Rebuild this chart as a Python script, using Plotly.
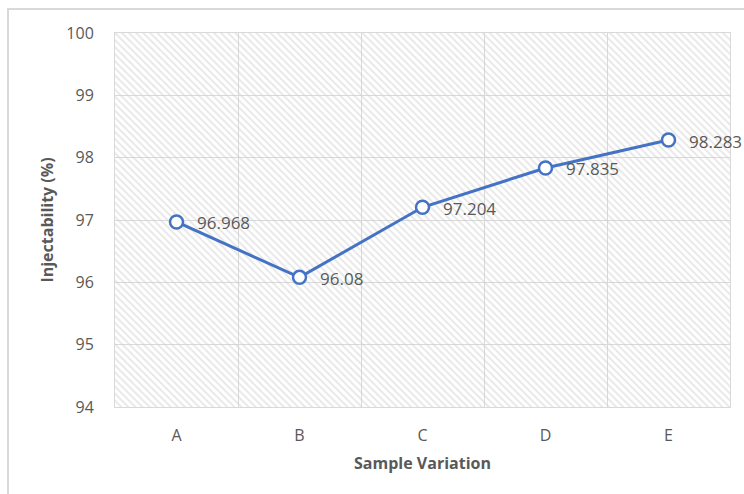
import plotly.graph_objects as go

categories = ["A", "B", "C", "D", "E"]
injectability = [96.968, 96.08, 97.204, 97.835, 98.283]
y_min, y_max = 94, 100
labels = ["96.968", "96.08", "97.204", "97.835", "98.283"]

FONT = "Open Sans"
GRAY = "#595959"

fig = go.Figure()

# hatched plot-area background (one full-width band per category)
fig.add_trace(go.Bar(
    x=categories,
    y=[y_max - y_min] * len(categories),
    base=[y_min] * len(categories),
    width=1,
    marker=dict(color="rgba(0,0,0,0)", line=dict(width=0),
                pattern=dict(shape="\\", fgcolor="#d0d0d0", bgcolor="rgba(255,255,255,0)",
                             size=5, solidity=0.38)),
    hoverinfo="skip", showlegend=False,
))

fig.add_trace(go.Scatter(
    x=categories, y=injectability,
    mode="lines+markers",
    line=dict(color="#4472C4", width=3),
    marker=dict(symbol="circle", size=13, color="white",
                line=dict(color="#4472C4", width=2.5)),
    showlegend=False, cliponaxis=False,
))

annotations = [
    dict(x=c, y=v, text=t, xref="x", yref="y", showarrow=False,
         xanchor="left", yanchor="middle", xshift=18, yshift=-1,
         font=dict(family=FONT, size=17, color=GRAY))
    for c, v, t in zip(categories, injectability, labels)
]

fig.update_layout(
    width=744, height=494,
    margin=dict(l=115, r=14, t=33, b=87),
    paper_bgcolor="white", plot_bgcolor="white",
    bargap=0,
    font=dict(family=FONT, color=GRAY),
    annotations=annotations,
    xaxis=dict(
        type="category", range=[-0.5, 4.5], tickson="boundaries",
        showgrid=True, gridcolor="#d9d9d9", gridwidth=1,
        ticks="", tickfont=dict(family=FONT, size=16, color=GRAY),
        ticklabelstandoff=14,
        showline=True, linecolor="#d9d9d9", mirror=True,
        title=dict(text="<b>Sample Variation</b>", font=dict(family=FONT, size=16, color=GRAY),
                   standoff=12),
        zeroline=False,
    ),
    yaxis=dict(
        range=[y_min, y_max], dtick=1,
        showgrid=True, gridcolor="#d9d9d9", gridwidth=1,
        ticks="", tickfont=dict(family=FONT, size=16, color=GRAY),
        ticklabelstandoff=17,
        showline=True, linecolor="#d9d9d9", mirror=True,
        title=dict(text="<b>Injectability (%)</b>", font=dict(family=FONT, size=16, color=GRAY),
                   standoff=8),
        zeroline=False,
    ),
    shapes=[dict(type="rect", xref="paper", yref="paper",
                 x0=-0.174, x1=1.06, y0=-0.26, y1=1.064,
                 line=dict(color="#d9d9d9", width=2), fillcolor="rgba(0,0,0,0)",
                 layer="below")],
)

fig.write_html("out.html")
